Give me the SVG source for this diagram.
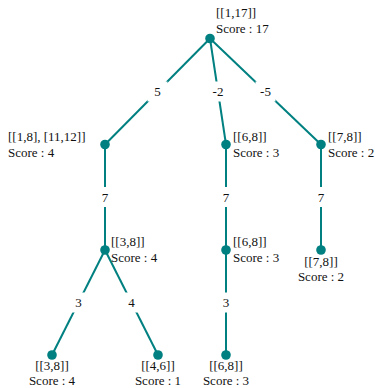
<svg xmlns="http://www.w3.org/2000/svg" width="375" height="388" viewBox="0 0 375 388" font-family="'Liberation Serif', 'Times New Roman', Times, serif" font-size="13">
<style>
.link{stroke:#008080;stroke-width:2;fill:none}
.node circle{fill:#008080}
text{fill:#111}
.lbl rect{fill:#fff}
.mid{text-anchor:middle}
</style>
<rect width="375" height="388" fill="#fff"/>
<g id="connectors">
<line class="link" x1="210" y1="38.5" x2="105" y2="144.5"/>
<line class="link" x1="210" y1="38.5" x2="226" y2="144.5"/>
<line class="link" x1="210" y1="38.5" x2="321" y2="144.5"/>
<line class="link" x1="105" y1="144.5" x2="105" y2="250"/>
<line class="link" x1="226" y1="144.5" x2="226" y2="250"/>
<line class="link" x1="321" y1="144.5" x2="321" y2="250"/>
<line class="link" x1="105" y1="250" x2="52" y2="355"/>
<line class="link" x1="105" y1="250" x2="158" y2="355"/>
<line class="link" x1="226" y1="250" x2="226" y2="355"/>
<g class="lbl">
<rect x="147.5" y="81.5" width="20" height="20"/><text class="mid" x="157.5" y="96">5</text>
<rect x="208" y="81.5" width="20" height="20"/><text class="mid" x="218" y="96">-2</text>
<rect x="255.5" y="81.5" width="20" height="20"/><text class="mid" x="265.5" y="96">-5</text>
<rect x="95" y="187" width="20" height="20"/><text class="mid" x="105" y="201.5">7</text>
<rect x="216" y="187" width="20" height="20"/><text class="mid" x="226" y="201.5">7</text>
<rect x="311" y="187" width="20" height="20"/><text class="mid" x="321" y="201.5">7</text>
<rect x="68.5" y="292.5" width="20" height="20"/><text class="mid" x="78.5" y="307">3</text>
<rect x="121.5" y="292.5" width="20" height="20"/><text class="mid" x="131.5" y="307">4</text>
<rect x="216" y="292.5" width="20" height="20"/><text class="mid" x="226" y="307">3</text>
</g>
</g>
<g id="n0" class="node"><circle cx="210" cy="38.5" r="4.8"/><text x="216" y="17">[[1,17]]</text><text x="216" y="32.5">Score : 17</text></g>
<g id="n1" class="node"><circle cx="105" cy="144.5" r="4.8"/><text x="8" y="141">[[1,8], [11,12]]</text><text x="8" y="156.5">Score : 4</text></g>
<g id="n2" class="node"><circle cx="226" cy="144.5" r="4.8"/><text x="233" y="141">[[6,8]]</text><text x="233" y="156.5">Score : 3</text></g>
<g id="n3" class="node"><circle cx="321" cy="144.5" r="4.8"/><text x="328" y="141">[[7,8]]</text><text x="328" y="156.5">Score : 2</text></g>
<g id="n4" class="node"><circle cx="105" cy="250" r="4.8"/><text x="111" y="245.5">[[3,8]]</text><text x="111" y="261.5">Score : 4</text></g>
<g id="n5" class="node"><circle cx="226" cy="250" r="4.8"/><text x="233" y="245.5">[[6,8]]</text><text x="233" y="261.5">Score : 3</text></g>
<g id="n6" class="node"><circle cx="321" cy="250" r="4.8"/><text class="mid" x="321" y="265.5">[[7,8]]</text><text class="mid" x="321" y="281">Score : 2</text></g>
<g id="n7" class="node"><circle cx="52" cy="355" r="4.8"/><text class="mid" x="52" y="369.5">[[3,8]]</text><text class="mid" x="52" y="385">Score : 4</text></g>
<g id="n8" class="node"><circle cx="158" cy="355" r="4.8"/><text class="mid" x="158" y="369.5">[[4,6]]</text><text class="mid" x="158" y="385">Score : 1</text></g>
<g id="n9" class="node"><circle cx="226" cy="355" r="4.8"/><text class="mid" x="226" y="369.5">[[6,8]]</text><text class="mid" x="226" y="385">Score : 3</text></g>
</svg>
